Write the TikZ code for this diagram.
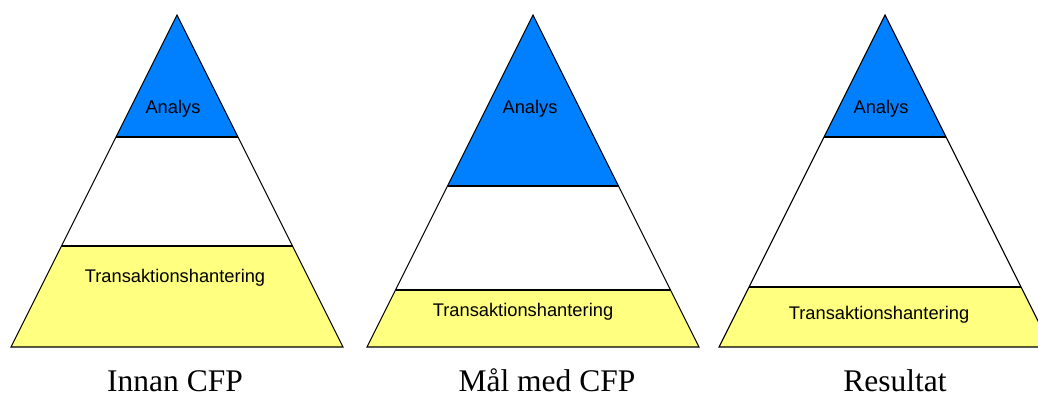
\documentclass[tikz,border=0pt]{standalone}
\usepackage{fontspec}
\setmainfont{Liberation Serif}
\newfontfamily\layerfont{Liberation Sans}
\definecolor{analysblue}{RGB}{0,128,255}
\definecolor{baseyellow}{RGB}{255,255,128}
\begin{document}
\begin{tikzpicture}[x=1pt,y=-1pt,
  edge/.style={draw=black, line width=1.1pt, line join=miter},
  layertext/.style={font=\layerfont\fontsize{18.3}{21}\selectfont, anchor=base, inner sep=0pt, text=black},
  caption/.style={font=\fontsize{31.5}{36}\selectfont, anchor=base, inner sep=0pt}]
  \useasboundingbox (0,0) rectangle (1038,398);
  \fill[white] (0,0) rectangle (1038,398);
  \clip (0,0) rectangle (1038,398);
  % Each pyramid: apex x, bottom of the top layer, top of the base layer.
  % Apex at y=15, base at y=347, half-width grows by 1/2 per unit of height.
  \foreach \cx/\by/\ty in {177/137/246, 533/186/290, 885/137/287}{
    \pgfmathsetmacro\hb{(\by-15)/2}
    \pgfmathsetmacro\ht{(\ty-15)/2}
    \fill[white] (\cx,15) -- (\cx-166,347) -- (\cx+166,347) -- cycle;
    \fill[analysblue] (\cx,15) -- (\cx-\hb,\by) -- (\cx+\hb,\by) -- cycle;
    \fill[baseyellow] (\cx-\ht,\ty) -- (\cx+\ht,\ty) -- (\cx+166,347) -- (\cx-166,347) -- cycle;
    \draw[edge] (\cx,15) -- (\cx-166,347) -- (\cx+166,347) -- cycle;
    \draw[edge] (\cx-\hb,\by) -- (\cx+\hb,\by);
    \draw[edge] (\cx-\ht,\ty) -- (\cx+\ht,\ty);
  }
  % Layer labels
  \node[layertext] (a1) at (173,114) {Analys};
  \node[layertext] (a2) at (530,114) {Analys};
  \node[layertext] (a3) at (881,114) {Analys};
  \node[layertext] (t1) at (175,282) {Transaktionshantering};
  \node[layertext] (t2) at (523,316) {Transaktionshantering};
  \node[layertext] (t3) at (879,319) {Transaktionshantering};
  % Captions
  \node[caption] (c1) at (175,391) {Innan CFP};
  \node[caption] (c2) at (547,391) {Mål med CFP};
  \node[caption] (c3) at (895,391) {Resultat};
\end{tikzpicture}
\end{document}
